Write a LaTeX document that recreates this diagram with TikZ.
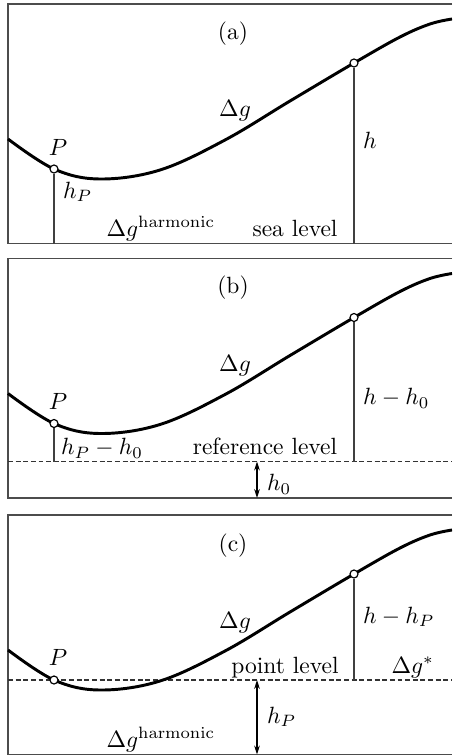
\documentclass[tikz,border=0pt]{standalone}
\usetikzlibrary{arrows.meta}
\tikzset{
  panelframe/.style={draw=black!70, line width=0.7pt},
  gcurve/.style={draw=black, line width=1.25pt},
  vline/.style={draw=black!75, line width=0.55pt},
  dashline/.style={draw=black!80, line width=0.55pt, dash pattern=on 2.1pt off 1.15pt},
  ptmark/.style={circle, draw=black, fill=white, inner sep=0pt, minimum size=3.4pt, line width=0.5pt},
  lbl/.style={inner sep=0pt, outer sep=0pt},
  harrow/.style={{Stealth[length=3.8pt,width=2.4pt]}-{Stealth[length=3.8pt,width=2.4pt]}, line width=0.55pt, draw=black},
}
\newcommand\drawgeocurve{\draw[gcurve] plot[smooth, tension=0.6] coordinates {(8,135) (54,165) (100,175) (160,166) (225,136) (290,97) (354,59) (400,33) (430,20) (452,15)};}
\newcommand\drawpanelframe{\draw[panelframe] (452,0) -- (8,0) -- (8,239.5) -- (452,239.5);}
\begin{document}
\begin{tikzpicture}[x=0.4255pt, y=-0.4255pt]
\useasboundingbox (0,0) rectangle (452,756);
\clip (0,0) rectangle (452,756);

% ---------- (a)
\begin{scope}[shift={(0,4)}]
  \drawpanelframe
  \drawgeocurve
  \coordinate (basea) at (0,239.5);
  \node[ptmark] (pa) at (54,165) {};
  \node[ptmark] (qa) at (354,59) {};
  \draw[vline] (pa.south) -- (pa |- basea);
  \draw[vline] (qa.south) -- (qa |- basea);
  \node[lbl] (tita) at (233,30) {(a)};
  \node[lbl, anchor=base] (dga) at (235,113) {$\Delta g$};
  \node[lbl, anchor=base] (Pa) at (58,151) {$P$};
  \node[lbl, anchor=base west] (ha) at (363,144) {$h$};
  \node[lbl, anchor=base west] (hpa) at (63,194) {$h_P$};
  \node[lbl, anchor=base west] (harma) at (106.5,232) {$\Delta g^{\mathrm{harmonic}}$};
  \node[lbl, anchor=base] (seaa) at (295,232) {sea level};
\end{scope}

% ---------- (b)
\begin{scope}[shift={(0,258.5)}]
  \drawpanelframe
  \drawgeocurve
  \coordinate (refl) at (8,203);
  \coordinate (refr) at (452,203);
  \coordinate (baseb) at (257,239.5);
  \draw[dashline] (refl) -- (refr);
  \node[ptmark] (pb) at (54,165) {};
  \node[ptmark] (qb) at (354,59) {};
  \draw[vline] (pb.south) -- (pb |- refl);
  \draw[vline] (qb.south) -- (qb |- refl);
  \coordinate (h0top) at (257,203);
  \draw[harrow] (h0top) -- (baseb);
  \node[lbl] (titb) at (233,29) {(b)};
  \node[lbl, anchor=base] (dgb) at (235,113) {$\Delta g$};
  \node[lbl, anchor=base] (Pb) at (58,151) {$P$};
  \node[lbl, anchor=base west] (hb) at (363,146) {$h-h_0$};
  \node[lbl, anchor=base west] (hpb) at (61,196) {$h_P-h_0$};
  \node[lbl, anchor=base] (refb) at (265,196) {reference level};
  \node[lbl, anchor=base west] (h0b) at (267,232) {$h_0$};
\end{scope}

% ---------- (c)
\begin{scope}[shift={(0,515)}]
  \drawpanelframe
  \coordinate (ptl) at (8,165);
  \coordinate (ptr) at (452,165);
  \coordinate (basec) at (257,239.5);
  \draw[dashline] (ptl) -- (ptr);
  \drawgeocurve
  \node[ptmark] (pc) at (54,165) {};
  \node[ptmark] (qc) at (354,59) {};
  \draw[vline] (qc.south) -- (qc |- ptl);
  \coordinate (hptop) at (257,165);
  \draw[harrow] (hptop) -- (basec);
  \node[lbl] (titc) at (233,31) {(c)};
  \node[lbl, anchor=base] (dgc) at (235,113) {$\Delta g$};
  \node[lbl, anchor=base] (Pc) at (58,150) {$P$};
  \node[lbl, anchor=base west] (hc) at (363,108) {$h-h_P$};
  \node[lbl, anchor=base] (ptlev) at (285,158) {point level};
  \node[lbl, anchor=base west] (dgs) at (391.5,158) {$\Delta g^{*}$};
  \node[lbl, anchor=base west] (hpc) at (267,208) {$h_P$};
  \node[lbl, anchor=base west] (harmc) at (106.5,232) {$\Delta g^{\mathrm{harmonic}}$};
\end{scope}
\end{tikzpicture}
\end{document}
